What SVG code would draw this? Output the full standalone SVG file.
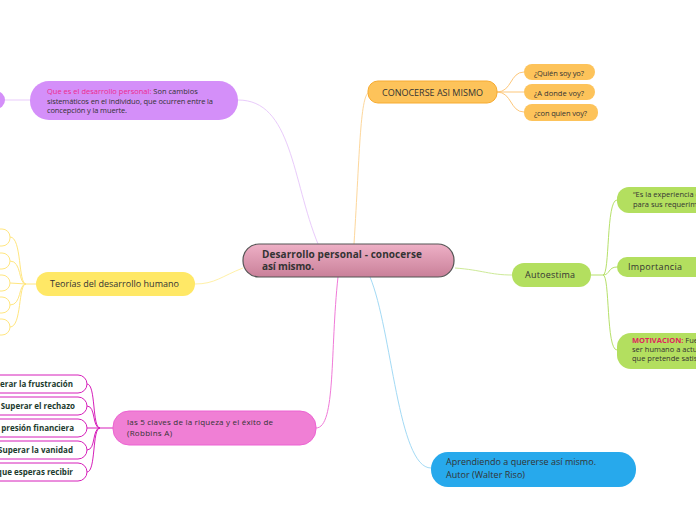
<svg xmlns="http://www.w3.org/2000/svg" width="696" height="520" viewBox="0 0 696 520">
<defs>
<linearGradient id="cg" x1="0" y1="0" x2="0" y2="1"><stop offset="0" stop-color="#eeb0c6"/><stop offset="1" stop-color="#c98099"/></linearGradient>
<style>
text{font-family:"Open Sans","Noto Sans","Liberation Sans",sans-serif;fill:#333}
.c{fill:none;stroke-width:1}
.s7{font-size:7.5px}.s8{font-size:8px}.s9{font-size:9px}
.b{font-weight:bold}
.pk{fill:#ec2a8e}.rd{fill:#e0245e}
.dg{fill:#1c3b2e;font-weight:bold;font-size:8px}
</style>
</defs>
<rect width="696" height="520" fill="#fff"/>
<g id="connectors">
<path class="c" stroke="#e9cbfb" d="M318,244 C292,180 292,100 238,100"/>
<path class="c" stroke="#e9cbfb" d="M5,100 L30,100"/>
<path class="c" stroke="#fdd79c" d="M354,244 C360,150 360,92 370,92"/>
<path class="c" stroke="#fdc77a" d="M497,92 C512,92 510,72 524,72 M497,92 L524,92 M497,92 C512,92 510,112 524,112"/>
<path class="c" stroke="#cdea98" d="M455,268 C482,270 490,275 512,275"/>
<path class="c" stroke="#b6e06a" d="M591,275 L603,275 C610,275 606,200 617,200 M603,275 C610,275 608,267 617,267 M603,275 C610,275 606,350 617,350"/>
<path class="c" stroke="#fff1a8" d="M243,268 C222,276 215,284 195,284"/>
<path class="c" stroke="#ffe680" d="M36,284 L26,284 C18,284 22,237 10,237 M26,284 C18,284 22,261 10,261 M26,284 L10,283 M26,284 C18,284 22,305 10,305 M26,284 C18,284 22,327 10,327"/>
<path class="c" stroke="#f07ad8" d="M338,277 C330,350 336,428 316,428"/>
<path class="c" stroke="#d61fba" d="M113,428 L100,428 C92,428 96,384 87,384 M100,428 C92,428 96,406 87,406 M100,428 L87,428 M100,428 C92,428 96,450 87,450 M100,428 C92,428 96,472 87,472"/>
<path class="c" stroke="#a3daf5" d="M370,277 C392,330 398,468 431,468"/>
</g>
<g id="center"><rect x="243" y="244" width="211" height="33" rx="16" fill="url(#cg)" stroke="#555" stroke-width="1.2"/>
<text class="b" font-size="10" x="262" y="258" textLength="160">Desarrollo personal - conocerse</text>
<text class="b" font-size="10" x="262" y="270" textLength="52">así mismo.</text></g>
<g id="purple-small"><circle cx="-4" cy="100" r="9" fill="#d48ff9"/></g>
<g id="purple"><rect x="30" y="81" width="208" height="39" rx="19" fill="#d48ff9"/>
<text class="s7" y="94"><tspan class="pk" x="47">Que es el desarrollo personal:</tspan><tspan> Son cambios</tspan></text>
<text class="s7" x="47" y="104" textLength="166">sistemáticos en el individuo, que ocurren entre la</text>
<text class="s7" x="47" y="113" textLength="80">concepción y la muerte.</text></g>
<g id="conocerse"><rect x="368" y="81" width="129" height="22" rx="10" fill="#fdc35a" stroke="#f7ab30"/>
<text class="s9" x="382" y="96" textLength="101">CONOCERSE ASI MISMO</text></g>
<g id="quien"><rect x="524" y="64" width="71" height="16" rx="8" fill="#fdc35a"/><text class="s7" x="534" y="76" textLength="50">¿Quién soy yo?</text></g>
<g id="donde"><rect x="524" y="84" width="71" height="16" rx="8" fill="#fdc35a"/><text class="s7" x="534" y="96" textLength="50">¿A  donde voy?</text></g>
<g id="conquien"><rect x="524" y="104" width="74" height="17" rx="8" fill="#fdc35a"/><text class="s7" x="534" y="116" textLength="53">¿con quien voy?</text></g>
<g id="autoestima"><rect x="512" y="263" width="79" height="24" rx="12" fill="#b3df5f"/><text class="s9" x="525" y="278" textLength="50">Autoestima</text></g>
<g id="experiencia"><rect x="617" y="187" width="100" height="26" rx="12" fill="#b3df5f"/>
<text class="s7" x="633" y="197">“Es la experiencia d</text><text class="s7" x="633" y="207">para sus requerim</text></g>
<g id="importancia"><rect x="617" y="257" width="100" height="20" rx="10" fill="#b3df5f"/><text class="s9" x="628" y="270" textLength="54">Importancia</text></g>
<g id="motivacion"><rect x="617" y="333" width="100" height="36" rx="14" fill="#b3df5f"/>
<text class="s7" y="343"><tspan x="632" class="rd b">MOTIVACION:</tspan><tspan> Fuer</tspan></text>
<text class="s7" x="632" y="352">ser humano a actu</text><text class="s7" x="632" y="361">que pretende satis</text></g>
<g id="teorias"><rect x="36" y="272" width="159" height="24" rx="12" fill="#ffe866"/><text class="s9" x="50" y="287" textLength="129">Teorías del desarrollo humano</text></g>
<g id="teorias-children" fill="#fff" stroke="#ffe680">
<rect x="-20" y="229" width="30" height="17" rx="8"/><rect x="-20" y="253" width="30" height="16" rx="8"/><rect x="-20" y="275" width="30" height="16" rx="8"/><rect x="-20" y="297" width="30" height="16" rx="8"/><rect x="-20" y="319" width="30" height="16" rx="8"/></g>
<g id="claves"><rect x="113" y="411" width="203" height="34" rx="16" fill="#f07fd5" stroke="#ec63d2"/>
<text class="s8" x="127" y="425" textLength="146">las 5 claves de la riqueza y el éxito de</text><text class="s8" x="127" y="436" textLength="45">(Robbins A)</text></g>
<g id="claves-children" fill="#fff" stroke="#d61fba">
<rect x="-30" y="375" width="117" height="18" rx="9"/><rect x="-30" y="397" width="117" height="18" rx="9"/><rect x="-30" y="419" width="117" height="18" rx="9"/><rect x="-30" y="441" width="117" height="18" rx="9"/><rect x="-30" y="463" width="117" height="18" rx="9"/></g>
<g id="claves-texts">
<text class="dg" x="73" y="387" text-anchor="end">erar la frustración</text>
<text class="dg" x="75" y="409" text-anchor="end">Superar el rechazo</text>
<text class="dg" x="74" y="431" text-anchor="end">presión financiera</text>
<text class="dg" x="73" y="453" text-anchor="end">Superar la vanidad</text>
<text class="dg" x="73" y="475" text-anchor="end">que esperas recibir</text></g>
<g id="aprendiendo"><rect x="431" y="452" width="205" height="35" rx="17" fill="#27a9ec"/>
<text class="s9" x="446" y="465" textLength="150">Aprendiendo a quererse así mismo.</text><text class="s9" x="446" y="478" textLength="79">Autor (Walter Riso)</text></g>
</svg>
